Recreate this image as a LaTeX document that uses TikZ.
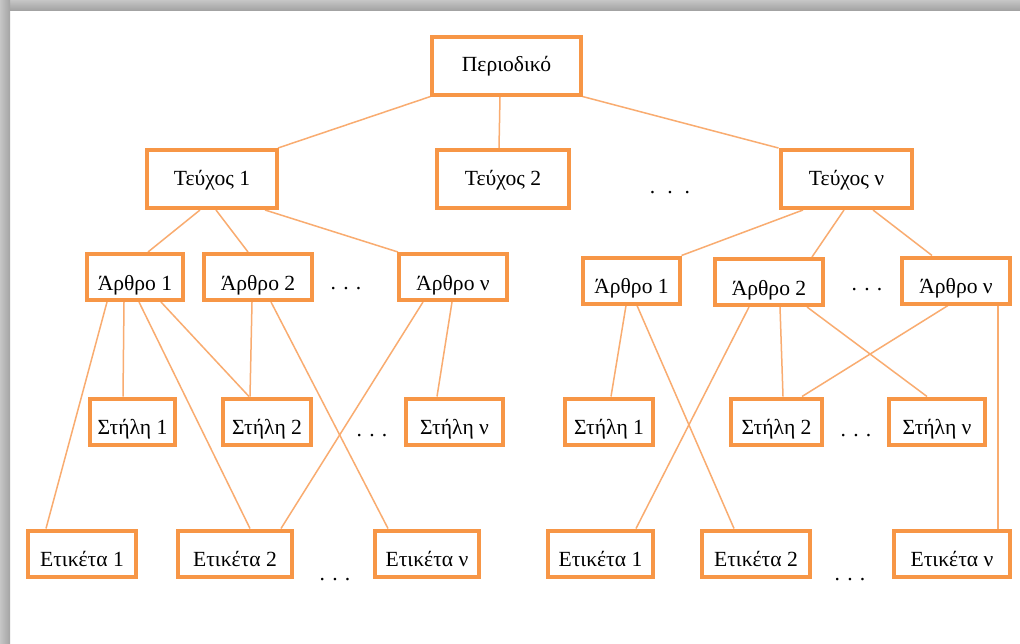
\documentclass[tikz,border=0pt]{standalone}
\usepackage{fontspec}
\setmainfont{Liberation Serif}
\usetikzlibrary{calc,backgrounds}
\definecolor{boxOrange}{RGB}{247,150,70}
\definecolor{linkOrange}{RGB}{249,172,112}

\begin{document}
\begin{tikzpicture}
[x=0.5pt,y=-0.5pt,%
  boxNode/.style={draw=boxOrange,line width=2pt,fill=white,inner sep=0pt,font=\fontsize{10.8}{13}\selectfont},%
  highBox/.style={boxNode,minimum height=29pt,text height=8.5pt,text depth=2.5pt},%
  lowBox/.style={boxNode,minimum height=23pt,text height=15pt,text depth=2pt},%
  linkLine/.style={draw=linkOrange,line width=0.75pt},%
  dotsNode/.style={anchor=base,inner sep=0pt,font=\fontsize{10.8}{13}\selectfont}]
\useasboundingbox (0,0) rectangle (1020,643);
%% boxes
\foreach \nodename/\x/\y/\w/\txt in {per/506.5/65.5/149/Περιοδικό,
  t1/212/179/130/Τεύχος 1, t2/503/179/132/Τεύχος 2, tn/846.5/179/131/Τεύχος ν}
{
  \node (\nodename) at (\x,\y) [highBox,minimum width=\w*0.5pt] {\txt};
}
\foreach \nodename/\x/\y/\w/\txt in {la1/135/277/96/Άρθρο 1, la2/258/277/108/Άρθρο 2,
  lan/453/277/108/Άρθρο ν, ra1/631.5/280.5/97/Άρθρο 1, ra2/769/282/108/Άρθρο 2,
  ran/956/280.5/108/Άρθρο ν,
  ls1/132.5/421.5/85/Στήλη 1, ls2/267/421.5/88/Στήλη 2, lsn/454.5/421.5/97/Στήλη ν,
  rs1/609/421.5/88/Στήλη 1, rs2/776.5/421.5/91/Στήλη 2, rsn/937/421.5/96/Στήλη ν,
  le1/82/553.5/108/Ετικέτα 1, le2/235/553.5/114/Ετικέτα 2, len/427/553.5/104/Ετικέτα ν,
  re1/600.5/553.5/105/Ετικέτα 1, re2/756/553.5/108/Ετικέτα 2, ren/952/553.5/116/Ετικέτα ν}
{
  \node (\nodename) at (\x,\y) [lowBox,minimum width=\w*0.5pt] {\txt};
}
%% dots
\node (dotsT) at (670,193) [dotsNode] {.\hspace{6pt}.\hspace{6pt}.};
\foreach \nodename/\x/\y in {dotsA/346/289, dotsB/867/290, dotsC/372/436,
  dotsD/856/436, dotsE/335/580, dotsF/850/580}
{
  \node (\nodename) at (\x,\y) [dotsNode] {. . .};
}
\begin{scope}[on background layer]
%% page with shadow
\fill[white] (0,0) rectangle (1020,643);
\shade[top color=gray!45,bottom color=gray!72] (0,0) rectangle (1020,10);
\shade[left color=gray!45,right color=gray!72] (0,0) rectangle (10,643);
%% links
\foreach \startnode/\startshift/\endnode/\endshift in {per/-76/t1/66, per/-6.5/t2/-4,
  per/76/tn/-68, t1/-12/la1/13, t1/4/la2/-10, t1/53/lan/-55,
  tn/-43.5/ra1/50, tn/-2.5/ra2/43, tn/26.5/ran/-24,
  la1/-28/le1/-36, la1/-11/ls1/-9.5, la1/4/le2/15, la1/26/ls2/-18,
  la2/-6/ls2/-17, la2/13/len/-39, lan/-30/le2/46, lan/-1/lsn/-17.5,
  ra1/-5.5/rs1/2, ra1/5.5/re2/-22, ra2/-20/re1/35.5, ra2/11/rs2/6.5,
  ra2/38/rsn/-10, ran/-8/rs2/25.5, ran/42/ren/46}
{
  \draw[linkLine] ($(\startnode.south)+(\startshift,0)$) -- ($(\endnode.north)+(\endshift,0)$);
}
\end{scope}
\end{tikzpicture}
\end{document}
